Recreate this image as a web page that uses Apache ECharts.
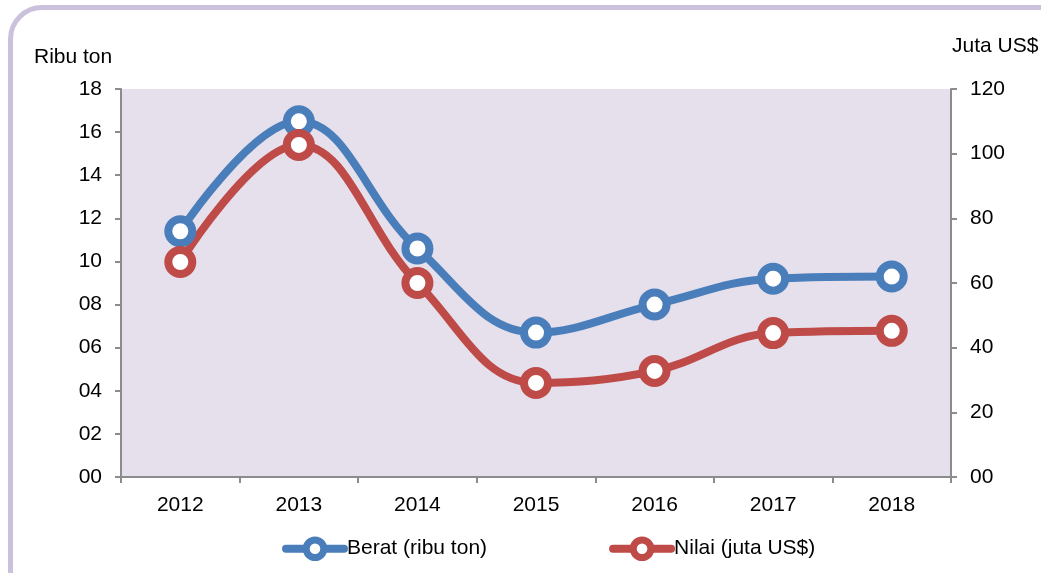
<!DOCTYPE html>
<html>
<head>
<meta charset="utf-8">
<script src="https://cdn.jsdelivr.net/npm/echarts@6/dist/echarts.min.js"></script>
<style>
html,body{margin:0;padding:0;background:#fff;overflow:hidden;}
#frame{position:absolute;left:8px;top:5px;width:1080px;height:620px;border:5px solid #cbc1dd;border-radius:34px;box-sizing:border-box;}
#chart{position:absolute;left:0;top:0;width:1041px;height:573px;}
</style>
</head>
<body>
<div id="frame"></div>
<div id="chart"></div>
<script>
// data
var years = ['2012','2013','2014','2015','2016','2017','2018'];
var berat = [11.4, 16.5, 10.6, 6.7, 8.0, 9.2, 9.3];     // ribu ton
var nilai = [66.5, 102.7, 60.0, 29.1, 32.8, 44.5, 45.2]; // juta US$

var fontName = '"Liberation Sans", Arial, sans-serif';
var fs = 21;
var blue = '#4a7ebb', red = '#be4b48', axisGray = '#8c8c8c';
var pad2 = function(v){ return v < 10 ? '0' + v : '' + v; };

function valueAxis(max, step, pos){
	return {
		type: 'value', min: 0, max: max, interval: step, position: pos,
		splitLine: {show: false},
		axisLine: {show: true, lineStyle: {color: axisGray, width: 2}},
		axisTick: {show: true, length: 6, lineStyle: {color: axisGray, width: 2}},
		axisLabel: {fontSize: fs, color: '#000', margin: 19, formatter: pad2}
	};
}

function lineSeries(name, data, color, axisIdx){
	return {
		name: name,
		type: 'line',
		yAxisIndex: axisIdx,
		data: data,
		smooth: 0.4,
		symbol: 'circle',
		symbolSize: 24,
		lineStyle: {color: color, width: 8},
		itemStyle: {color: '#ffffff', borderColor: color, borderWidth: 8}
	};
}

var chart = echarts.init(document.getElementById('chart'));
var option = {
	animation: false,
	textStyle: {fontFamily: fontName, color: '#000'},
	grid: {left: 121, right: 90, top: 89, bottom: 96, show: true, backgroundColor: '#e5e0ec', borderWidth: 0},
	graphic: [
		{type: 'text', left: 34, top: 47, style: {text: 'Ribu ton', font: fs + 'px ' + fontName, fill: '#000'}},
		{type: 'text', left: 952, top: 36, style: {text: 'Juta US$', font: fs + 'px ' + fontName, fill: '#000'}}
	],
	legend: {
		bottom: 12,
		left: 282,
		padding: 0,
		itemGap: 122,
		itemWidth: 58,
		itemHeight: 22,
		textStyle: {fontSize: fs, fontFamily: fontName, color: '#000', padding: [0,0,0,-2]},
		data: [
			{name: 'Berat (ribu ton)', itemStyle: {color: '#fff', borderColor: blue, borderWidth: 7}, lineStyle: {color: blue, width: 8, cap: 'round'}},
			{name: 'Nilai (juta US$)', itemStyle: {color: '#fff', borderColor: red, borderWidth: 7}, lineStyle: {color: red, width: 8, cap: 'round'}}
		]
	},
	xAxis: {
		type: 'category',
		data: years,
		boundaryGap: true,
		axisLine: {lineStyle: {color: axisGray, width: 2}},
		axisTick: {show: true, length: 6, lineStyle: {color: axisGray, width: 2}},
		axisLabel: {fontSize: fs, color: '#000', margin: 18}
	},
	yAxis: [valueAxis(18, 2, 'left'), valueAxis(120, 20, 'right')],
	series: [
		lineSeries('Berat (ribu ton)', berat, blue, 0),
		lineSeries('Nilai (juta US$)', nilai, red, 1)
	]
};
chart.setOption(option);
</script>
</body>
</html>
